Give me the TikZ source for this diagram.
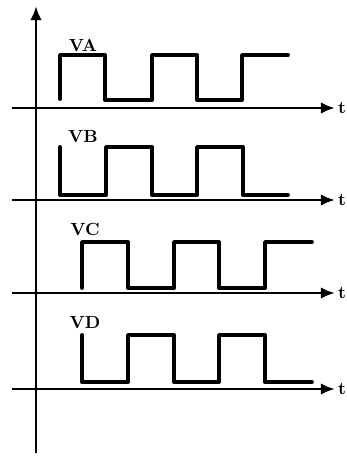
\documentclass[tikz,border=0pt]{standalone}
\usetikzlibrary{arrows.meta}

\tikzset{
	wave/.style={line width=2.2pt, line join=round, line cap=round},
	axis/.style={line width=1.6pt, -{Latex[length=8pt,width=6.5pt]}},
	lbl/.style={font=\fontsize{10}{10}\selectfont\bfseries, inner sep=0pt},
	tlbl/.style={font=\fontsize{10}{10}\selectfont\bfseries, anchor=west, inner sep=0pt}
}

\begin{document}
\begin{tikzpicture}[x=0.02cm, y=-0.02cm]
		\useasboundingbox (0,0) rectangle (346,457);
		% vertical axis
		\draw[axis] (36,453) -- (36,6);
		% time axes
		\draw[axis] (12,108) -- (335,108) node[tlbl, xshift=1pt] (tA) {t};
		\draw[axis] (12,200) -- (335,200) node[tlbl, xshift=1pt] (tB) {t};
		\draw[axis] (12,293) -- (335,293) node[tlbl, xshift=1pt] (tC) {t};
		\draw[axis] (12,389) -- (335,389) node[tlbl, xshift=1pt] (tD) {t};
		
		% VA
		\draw[wave] (60,99) -- (60,55) -- (105,55) -- (105,100) -- (152,100) -- (152,55) -- (197,55) -- (197,100) -- (242,100) -- (242,55) -- (288,55);
		\node[lbl] (va) at (83,45) {VA};
		% VB
		\draw[wave] (60,147) -- (60,195) -- (106,195) -- (106,147) -- (152,147) -- (152,195) -- (197,195) -- (197,147) -- (243,147) -- (243,195) -- (288,195);
		\node[lbl] (vb) at (83,137) {VB};
		% VC
		\draw[wave] (82,288) -- (82,242) -- (128,242) -- (128,288) -- (174,288) -- (174,242) -- (219,242) -- (219,288) -- (265,288) -- (265,242) -- (312,242);
		\node[lbl] (vc) at (85,229) {VC};
		% VD
		\draw[wave] (82,335) -- (82,382) -- (128,382) -- (128,335) -- (174,335) -- (174,382) -- (219,382) -- (219,335) -- (265,335) -- (265,382) -- (312,382);
		\node[lbl] (vd) at (85,323) {VD};
	\end{tikzpicture}
\end{document}
